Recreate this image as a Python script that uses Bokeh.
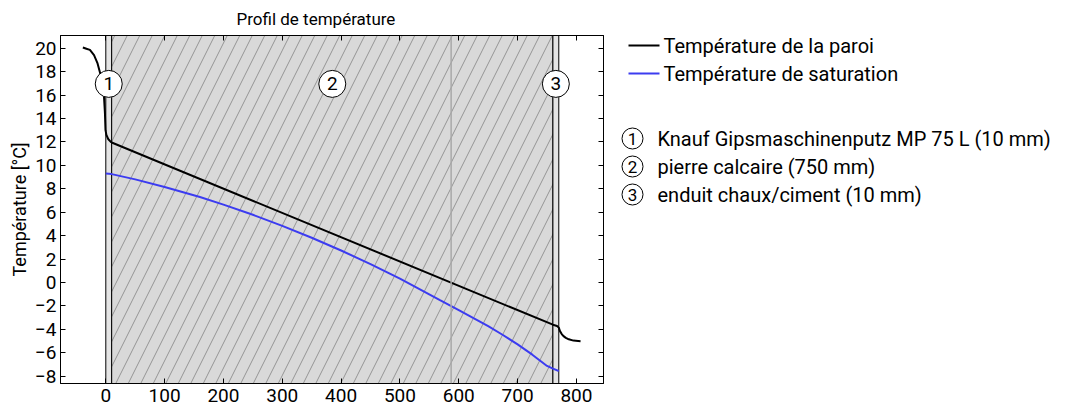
from bokeh.plotting import figure
from bokeh.models import Range1d, LinearAxis, Span, Label, ColumnDataSource, FixedTicker
from bokeh.layouts import row
from bokeh.embed import file_html
from bokeh.resources import INLINE
from bokeh.core.properties import value

# ---------------- data ----------------
layer_numbers = ["1", "2", "3"]
layer_names = ["Knauf Gipsmaschinenputz MP 75 L (10 mm)",
               "pierre calcaire (750 mm)",
               "enduit chaux/ciment (10 mm)"]
layer_thickness = [10, 750, 10]
layer_hatch = [" ", "/", " "]
layer_fill = ["#e4e4e4", "#d9d9d9", "#e4e4e4"]

wall_x = [-39, -33, -27, -20, -14, -10, -7, -5, -3, -1.5, -0.5, 1, 4, 8.5, 10,
          760, 767, 770, 772, 775, 778, 782, 787, 795, 807]
wall_t = [20.05, 19.95, 19.85, 19.4, 18.7, 17.95, 17.2, 16.5, 15.8, 14.5, 13.0, 12.6, 12.25, 12.0, 11.95,
          -3.6, -3.71, -3.85, -4.15, -4.4, -4.58, -4.73, -4.85, -4.96, -5.01]

sat_x = [0, 10, 50, 100, 160, 200, 250, 300, 350, 400, 450, 500, 568, 600, 650, 675, 700, 725, 750, 760, 770]
sat_t = [9.3, 9.25, 8.8, 8.15, 7.3, 6.65, 5.78, 4.83, 3.82, 2.73, 1.57, 0.33, -1.5, -2.35, -3.72, -4.48,
         -5.28, -6.16, -7.12, -7.35, -7.55]

marker_x = [587]

x_ticks = [0, 100, 200, 300, 400, 500, 600, 700, 800]
y_ticks = [-8, -6, -4, -2, 0, 2, 4, 6, 8, 10, 12, 14, 16, 18, 20]

series_names = ["Température de la paroi", "Température de saturation"]
series_colors = ["#000000", "#3c3cf0"]

FONT = "Roboto"

# ---------------- derived ----------------
layer_left = []
layer_right = []
acc = 0
for t in layer_thickness:
    layer_left.append(acc)
    acc += t
    layer_right.append(acc)
layer_mid = [(l + r) / 2 for l, r in zip(layer_left, layer_right)]

x_lo, x_hi = -77, 846
y_lo, y_hi = -8.62, 21.08
label_y = 16.95

# ---------------- main figure ----------------
p = figure(width=605, height=415, x_range=Range1d(x_lo, x_hi), y_range=Range1d(y_lo, y_hi),
           output_backend="svg", toolbar_location=None,
           min_border_left=60, min_border_right=2, min_border_top=35, min_border_bottom=32)
p.grid.visible = False
p.outline_line_color = "black"
p.outline_line_width = 1
p.background_fill_color = "white"

p.title.text = "Profil de température"
p.title.align = "left"
p.title.offset = 176
p.title.standoff = 13
p.title.text_font = FONT
p.title.text_font_size = "17px"
p.title.text_font_style = "normal"
p.title.text_color = "black"

for ax, tk in ((p.xaxis[0], x_ticks), (p.yaxis[0], y_ticks)):
    ax.ticker = FixedTicker(ticks=tk)
    ax.major_tick_in = 5
    ax.major_tick_out = 0
    ax.minor_tick_in = 0
    ax.minor_tick_out = 0
    ax.major_label_text_font = FONT
    ax.major_label_text_font_size = "19px"
    ax.major_label_text_color = "black"
    ax.axis_line_color = "black"
    ax.major_tick_line_color = "black"

p.xaxis.major_label_standoff = 5
p.yaxis.major_label_standoff = 4
p.yaxis.axis_label = "Température [°C]"
p.yaxis.axis_label_text_font = FONT
p.yaxis.axis_label_text_font_size = "18px"
p.yaxis.axis_label_text_font_style = "normal"
p.yaxis.axis_label_text_color = "black"
p.yaxis.axis_label_standoff = 2

for side, tk in (("above", x_ticks), ("right", y_ticks)):
    a = LinearAxis(ticker=FixedTicker(ticks=tk),
                   major_label_overrides={t: "" for t in tk},
                   major_tick_in=5, major_tick_out=0, minor_tick_in=0, minor_tick_out=0,
                   major_label_standoff=0, axis_line_color="black")
    p.add_layout(a, side)

layers = ColumnDataSource(dict(left=layer_left, right=layer_right,
                               bottom=[y_lo - 5] * 3, top=[y_hi + 5] * 3,
                               fill=layer_fill, hatch=layer_hatch))
p.quad(left="left", right="right", bottom="bottom", top="top", source=layers,
       fill_color="fill", line_color="black", line_width=1,
       hatch_pattern="hatch", hatch_color="#949494", hatch_scale=25, hatch_weight=1)

for mx in marker_x:
    p.add_layout(Span(location=mx, dimension="height", line_color="#a8a8a8", line_width=1.5))

p.line(wall_x, wall_t, line_color=series_colors[0], line_width=2)
p.line(sat_x, sat_t, line_color=series_colors[1], line_width=2)

p.scatter(layer_mid, [label_y] * 3, size=27, marker="circle",
          fill_color="white", line_color="black", line_width=1)
p.text(layer_mid, [label_y] * 3, text=layer_numbers, text_align="center", text_baseline="middle",
       text_font=value(FONT), text_font_size="19px", text_color="black")

p.add_layout(Label(x=808, y=-29, y_units="screen", text="[mm]", text_align="center",
                   text_baseline="top", text_font=FONT, text_font_size="19px"))

# ---------------- legend panel ----------------
# the row aligns this panel's frame with the main frame (pixels 35..383),
# so the y range is set so that its units are page pixels
lw = 462
lf = figure(width=lw, height=415, x_range=Range1d(0, lw), y_range=Range1d(383, 35),
            output_backend="svg", toolbar_location=None, min_border=0,
            x_axis_location=None, y_axis_location=None)
lf.title = None
lf.grid.visible = False
lf.outline_line_color = None

line_rows = [45, 73]
for i, (name, col) in enumerate(zip(series_names, series_colors)):
    yy = line_rows[i]
    lf.line([23, 54], [yy, yy], line_color=col, line_width=2)
lf.text([58, 58], line_rows, text=series_names, text_baseline="middle",
        text_font=value(FONT), text_font_size="20px", text_color="black")

layer_rows = [138, 166, 194]
lf.scatter([27] * 3, layer_rows, size=21, marker="circle", fill_color="white",
           line_color="black", line_width=1)
lf.text([27] * 3, layer_rows, text=layer_numbers, text_align="center", text_baseline="middle",
        text_font=value(FONT), text_font_size="17px", text_color="black")
lf.text([52] * 3, layer_rows, text=layer_names, text_baseline="middle",
        text_font=value(FONT), text_font_size="20px", text_color="black")

layout = row(p, lf)
open("out.html", "w").write(file_html(layout, INLINE))
